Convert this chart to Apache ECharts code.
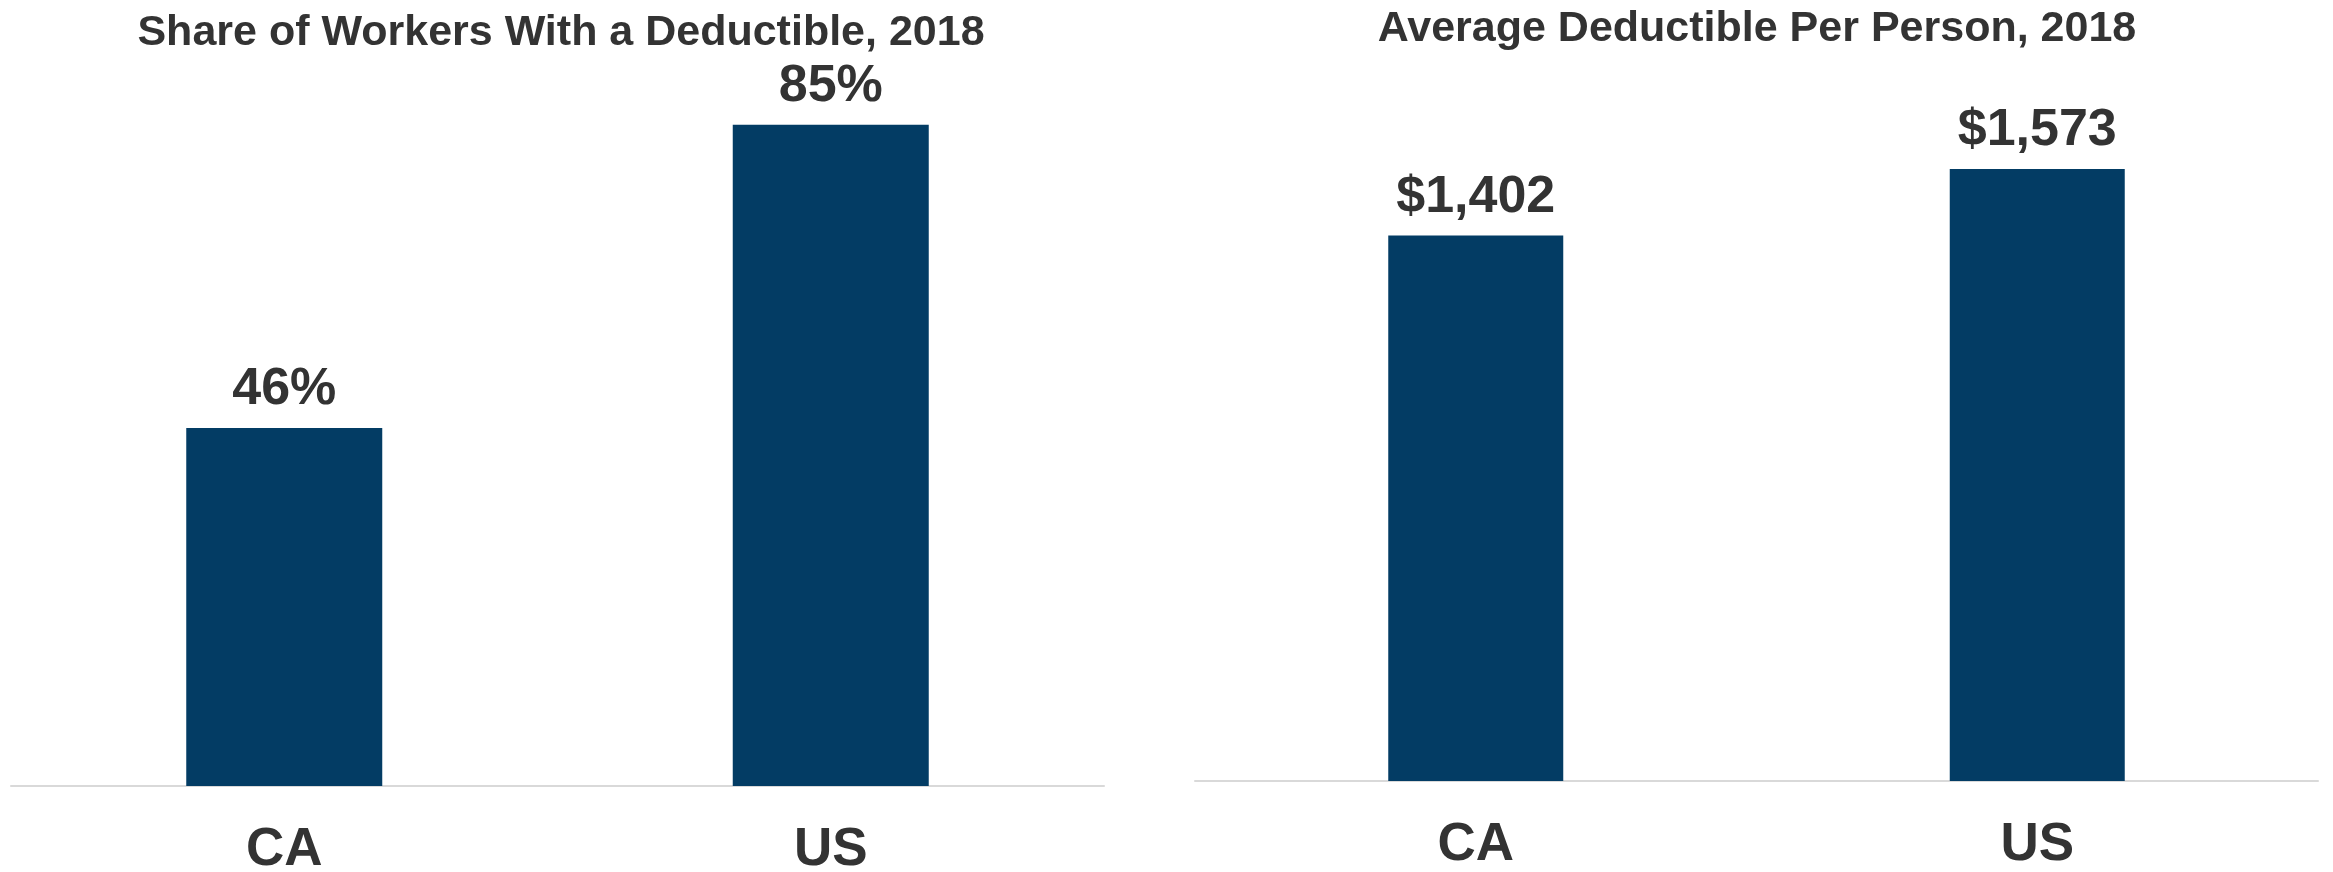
<!DOCTYPE html>
<html>
<head>
<meta charset="utf-8">
<title>Deductibles, CA vs US, 2018</title>
<script src="https://cdn.jsdelivr.net/npm/echarts@6/dist/echarts.min.js"></script>
<style>
  html, body { margin: 0; padding: 0; background: #ffffff; }
  #chart { width: 2333px; height: 872px; }
</style>
</head>
<body>
<div id="chart"></div>
<script>
// Categories and values
const categories = ['CA', 'US'];
const shareWithDeductible = [46, 85];      // percent of workers
const avgDeductible = [1402, 1573];        // dollars per person

const FONT = '"Liberation Sans", Arial, Helvetica, sans-serif';
const INK = '#333333';
const BAR = '#033c64';
const AXIS = '#d9d9d9';

function dollars(v) {
  return '$' + Number(v).toLocaleString('en-US');
}

const catAxis = (gridIndex, margin) => ({
  type: 'category',
  gridIndex: gridIndex,
  data: categories,
  axisLine: { show: true, lineStyle: { color: AXIS, width: 2 } },
  axisTick: { show: false },
  axisLabel: {
    margin: margin,
    color: INK,
    fontFamily: FONT,
    fontWeight: 'bold',
    fontSize: 53
  }
});

const chart = echarts.init(document.getElementById('chart'), null, { renderer: 'canvas' });

chart.setOption({
  backgroundColor: '#ffffff',
  animation: false,
  title: [
    {
      text: 'Share of Workers With a Deductible, 2018',
      left: 556, top: 7, textAlign: 'center',
      textStyle: { color: INK, fontFamily: FONT, fontWeight: 'bold', fontSize: 43 }
    },
    {
      text: 'Average Deductible Per Person, 2018',
      left: 1752, top: 3, textAlign: 'center',
      textStyle: { color: INK, fontFamily: FONT, fontWeight: 'bold', fontSize: 43 }
    }
  ],
  // fixed plot boxes; labels may sit outside them
  grid: [
    { left: 11, right: 1229, top: 8, bottom: 86, outerBoundsMode: 'none', containLabel: false },
    { left: 1195, right: 15, top: 3, bottom: 91, outerBoundsMode: 'none', containLabel: false }
  ],
  xAxis: [catAxis(0, 38), catAxis(1, 38)],
  yAxis: [
    { type: 'value', gridIndex: 0, min: 0, max: 100, show: false, splitLine: { show: false } },
    { type: 'value', gridIndex: 1, min: 0, max: 2000, show: false, splitLine: { show: false } }
  ],
  series: [
    {
      type: 'bar',
      xAxisIndex: 0, yAxisIndex: 0,
      data: shareWithDeductible,
      barWidth: 196,
      itemStyle: { color: BAR },
      label: {
        show: true, position: 'top', distance: 12,
        formatter: p => p.value + '%',
        color: INK, fontFamily: FONT, fontWeight: 'bold', fontSize: 52
      }
    },
    {
      type: 'bar',
      xAxisIndex: 1, yAxisIndex: 1,
      data: avgDeductible,
      barWidth: 175,
      itemStyle: { color: BAR },
      label: {
        show: true, position: 'top', distance: 12,
        formatter: p => dollars(p.value),
        color: INK, fontFamily: FONT, fontWeight: 'bold', fontSize: 52
      }
    }
  ]
});
</script>
</body>
</html>
